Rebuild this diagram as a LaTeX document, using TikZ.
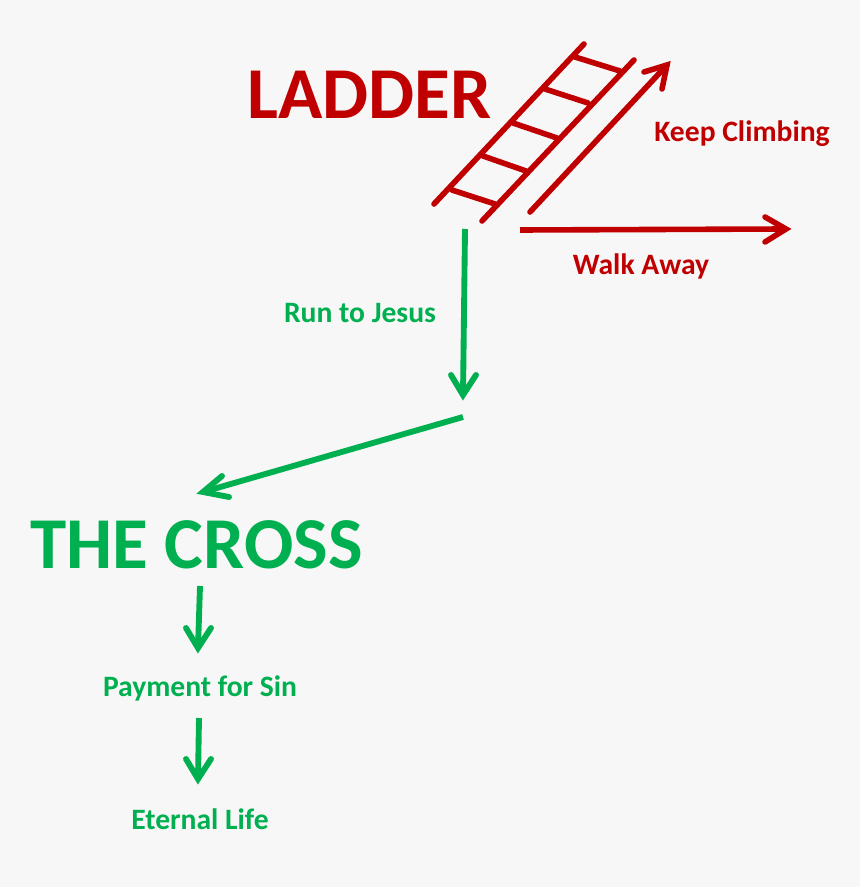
\documentclass[tikz,border=0pt]{standalone}
\usepackage{fontspec}
\setmainfont{Carlito}
\definecolor{rd}{HTML}{C00000}
\definecolor{gr}{HTML}{00B050}
\definecolor{bg}{HTML}{F7F7F7}
\tikzset{
 px/.style={x=0.75pt,y=-0.75pt},
 lbl/.style={inner sep=0pt,font=\bfseries\fontsize{22.2}{26}\selectfont},
 big/.style={inner sep=0pt,font=\bfseries\fontsize{54.8}{62}\selectfont},
 rl/.style={rd,line width=4.2pt,line cap=round},
 ra/.style={rd,line width=4.2pt,line cap=round,line join=miter},
 ga/.style={gr,line width=4.4pt,line cap=round,line join=miter},
}
\begin{document}
\begin{tikzpicture}[px]
\useasboundingbox (0,0) rectangle (860,887);
\fill[bg] (0,0) rectangle (860,887);
\node[big,text=rd] (ladder) at (369.5,95) {LADDER};
\node[big,text=gr] (cross) at (196.5,545) {THE CROSS};
\node[lbl,text=rd] (keep) at (742,134) {Keep Climbing};
\node[lbl,text=rd] (walk) at (641,266) {Walk Away};
\node[lbl,text=gr] (run) at (360,313.5) {Run to Jesus};
\node[lbl,text=gr] (pay) at (200,688.5) {Payment for Sin};
\node[lbl,text=gr] (life) at (200,819) {Eternal Life};
% ladder
\coordinate (l1) at (434,204); \coordinate (l2) at (584,44);
\coordinate (r1) at (482,221); \coordinate (r2) at (634,60);
\draw[rl] (l1) -- (l2);
\draw[rl] (r1) -- (r2);
\draw[rl] (452,190) -- (495,204);
\draw[rl] (483,156) -- (526,171);
\draw[rl] (513,123) -- (557,138);
\draw[rl] (545,89) -- (588,103);
\draw[rl] (575,57) -- (620,71);
% arrows
\coordinate (kc1) at (530,212); \coordinate (kc2) at (667,65);
\draw[ra] (kc1) -- (kc2);
\draw[ra] (644,72) -- (kc2) -- (662,89);
\coordinate (wa1) at (520,230); \coordinate (wa2) at (786,229);
\draw[ra,line cap=butt] (wa1) -- (wa2);
\draw[ra] (765,217) -- (wa2) -- (765,242);
\coordinate (g1) at (465,229); \coordinate (g2) at (463,395);
\draw[ga,line cap=butt] (g1) -- (g2);
\draw[ga] (451,375) -- (g2) -- (476,375);
\coordinate (h1) at (463,417); \coordinate (h2) at (203,492);
\draw[ga,line cap=butt] (h1) -- (h2);
\draw[ga] (222,476) -- (h2) -- (229,497);
\coordinate (i1) at (200,586); \coordinate (i2) at (198,648);
\draw[ga,line cap=butt] (i1) -- (i2);
\draw[ga] (186,628) -- (i2) -- (211,628);
\coordinate (j1) at (199,718); \coordinate (j2) at (198,779);
\draw[ga,line cap=butt] (j1) -- (j2);
\draw[ga] (186,759) -- (j2) -- (211,759);
\end{tikzpicture}
\end{document}
